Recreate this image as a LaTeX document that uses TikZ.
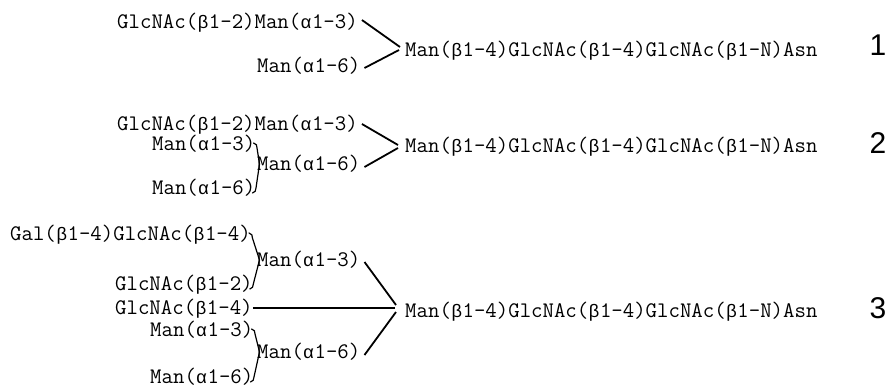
\documentclass[tikz,border=0pt]{standalone}
\usepackage{fontspec}
\newfontfamily\tagfont{Liberation Sans}
\newfontfamily\grkfont[Scale=0.82]{Liberation Sans}

% Greek letters set in a one-character cell of the typewriter font
\newcommand\galpha{\makebox[0.525em]{\grkfont α}}
\newcommand\gbeta{\makebox[0.525em]{\grkfont β}}

% bracket joining two residues to the one on their right
\newcommand\joinbrace[3]{%
  \draw[brace] (#1) .. controls +(3,1) and +(0,-3) .. ([shift={(3.5,5)}]#1)
     -- (#2) -- ([shift={(3.5,-5)}]#3) .. controls +(0,3) and +(2.5,-1) .. (#3);}

\begin{document}
\begin{tikzpicture}[x=1pt,y=-1pt,
  glyc/.style={font=\ttfamily\fontsize{22.2}{24}\selectfont, inner sep=0pt,
               text height=0.6em, text depth=0.1em, anchor=base west},
  tag/.style={font=\tagfont\fontsize{30}{32}\selectfont, inner sep=0pt, anchor=base},
  link/.style={line width=1.8pt},
  brace/.style={line width=1.2pt, line join=round, line cap=round}]
\useasboundingbox (0,0) rectangle (887,389);

% ---------- structure 1 ----------
\node[glyc] (t1a) at (117,28) {GlcNAc(\gbeta1-2)Man(\galpha1-3)};
\node[glyc] (t1b) at (257,72) {Man(\galpha1-6)};
\node[glyc] (m1)  at (405,56) {Man(\gbeta1-4)GlcNAc(\gbeta1-4)GlcNAc(\gbeta1-N)Asn};
\node[tag]  (n1)  at (878,55) {1};
\draw[link] ([shift={(4,-8)}]t1a.base east) -- ([shift={(-5,-9)}]m1.base west);
\draw[link] ([shift={(4,-4)}]t1b.base east) -- ([shift={(-6,-6)}]m1.base west);

% ---------- structure 2 ----------
\node[glyc] (t2a) at (117,130) {GlcNAc(\gbeta1-2)Man(\galpha1-3)};
\node[glyc] (t2b) at (152,150) {Man(\galpha1-3)};
\node[glyc] (t2c) at (152,194) {Man(\galpha1-6)};
\node[glyc] (t2d) at (257,170) {Man(\galpha1-6)};
\node[glyc] (m2)  at (405,152) {Man(\gbeta1-4)GlcNAc(\gbeta1-4)GlcNAc(\gbeta1-N)Asn};
\node[tag]  (n2)  at (878,153) {2};
\coordinate (b2t) at ([shift={(-2,-7)}]t2b.base east);
\coordinate (b2m) at ([shift={(2.5,-6)}]t2d.base west);
\coordinate (b2b) at ([shift={(-3,-1)}]t2c.base east);
\joinbrace{b2t}{b2m}{b2b}
\draw[link] ([shift={(4,-6)}]t2a.base east) -- ([shift={(-7,-7)}]m2.base west);
\draw[link] ([shift={(4,-3)}]t2d.base east) -- ([shift={(-7,-4)}]m2.base west);

% ---------- structure 3 ----------
\node[glyc] (t3a) at (10,240) {Gal(\gbeta1-4)GlcNAc(\gbeta1-4)};
\node[glyc] (t3b) at (115,290) {GlcNAc(\gbeta1-2)};
\node[glyc] (t3c) at (257,266) {Man(\galpha1-3)};
\node[glyc] (t3d) at (115,314) {GlcNAc(\gbeta1-4)};
\node[glyc] (t3e) at (150,336) {Man(\galpha1-3)};
\node[glyc] (t3f) at (257,358) {Man(\galpha1-6)};
\node[glyc] (t3g) at (150,383) {Man(\galpha1-6)};
\node[glyc] (m3)  at (405,317) {Man(\gbeta1-4)GlcNAc(\gbeta1-4)GlcNAc(\gbeta1-N)Asn};
\node[tag]  (n3)  at (878,318) {3};
\coordinate (b3at) at ([shift={(-2,-7)}]t3a.base east);
\coordinate (b3am) at ([shift={(2.5,-6)}]t3c.base west);
\coordinate (b3ab) at ([shift={(-3,-1)}]t3b.base east);
\joinbrace{b3at}{b3am}{b3ab}
\coordinate (b3bt) at ([shift={(-2,-7)}]t3e.base east);
\coordinate (b3bm) at ([shift={(2.5,-6)}]t3f.base west);
\coordinate (b3bb) at ([shift={(-3,-1)}]t3g.base east);
\joinbrace{b3bt}{b3bm}{b3bb}
\draw[link] ([shift={(4,-4)}]t3c.base east) -- ([shift={(-9,-12)}]m3.base west);
\draw[link] ([shift={(0,-6)}]t3d.base east) -- ([shift={(-10,-9)}]m3.base west);
\draw[link] ([shift={(4,-3)}]t3f.base east) -- ([shift={(-9,-5)}]m3.base west);
\end{tikzpicture}
\end{document}
